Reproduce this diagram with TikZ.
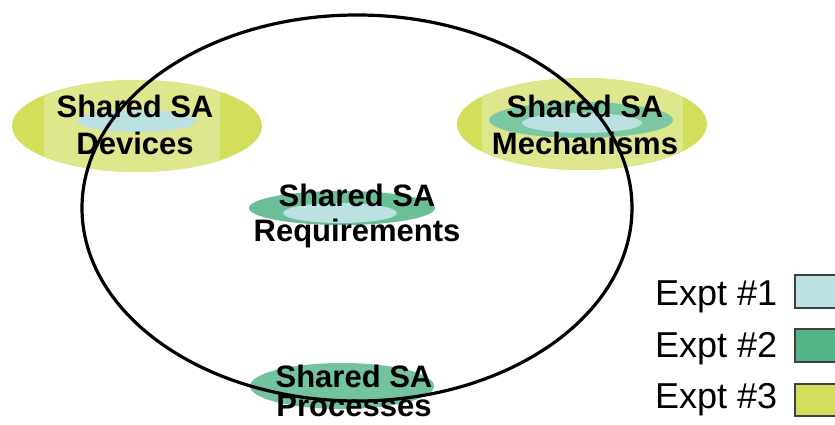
\documentclass[tikz,border=0pt]{standalone}
\usepackage{fontspec}
\setmainfont{Liberation Sans}
\begin{document}
\begin{tikzpicture}[x=1pt,y=-1pt]
\definecolor{expA}{HTML}{BCE1E3}
\definecolor{expB}{HTML}{50B487}
\definecolor{expBsoft}{HTML}{7CC8A2}
\definecolor{expC}{HTML}{D3DF5B}
\definecolor{expCsoft}{HTML}{DEE68E}
\tikzset{
  lbl/.style={font=\fontsize{31}{36}\selectfont\bfseries, anchor=base, inner sep=0pt},
  leg/.style={font=\fontsize{36}{40}\selectfont, anchor=base west, inner sep=0pt},
  legbox/.style={draw=black!75, line width=1.2pt},
  ring/.style={draw=black, line width=3.2pt}
}
\useasboundingbox (0,0) rectangle (835,425);
\fill[white] (0,0) rectangle (835,425);

% Devices: expt 3 band with expt 1 core
\fill[expC] (137,126) ellipse [x radius=125, y radius=46];
\begin{scope}
  \clip (137,126) ellipse [x radius=125, y radius=46];
  \fill[expCsoft] (44,70) rectangle (220,180);
\end{scope}
\fill[expA] (137,121) ellipse [x radius=60, y radius=11];

% Mechanisms: expt 3 band, expt 2 ring, expt 1 core
\fill[expC] (582,124) ellipse [x radius=125, y radius=46];
\begin{scope}
  \clip (582,124) ellipse [x radius=125, y radius=46];
  \fill[expCsoft] (482,70) rectangle (683,180);
\end{scope}
\fill[expBsoft] (581,120) ellipse [x radius=92, y radius=18];
\fill[expA] (582,123) ellipse [x radius=60, y radius=10];

% Requirements
\fill[expB!85!white] (342,208) ellipse [x radius=93, y radius=17];
\fill[expA] (340,213) ellipse [x radius=57, y radius=10];

% Processes
\fill[expB!80!white] (342,386) ellipse [x radius=92, y radius=23];

% Outer boundary
\draw[ring] (357,208) ellipse [x radius=275, y radius=193];

% Labels
\node[lbl] (devA) at (135,118) {Shared SA};
\node[lbl] (devB) at (135,154) {Devices};
\node[lbl] (mecA) at (585,118) {Shared SA};
\node[lbl] (mecB) at (585,154) {Mechanisms};
\node[lbl] (reqA) at (357,206) {Shared SA};
\node[lbl] (reqB) at (357,241) {Requirements};
\node[lbl] (proA) at (354,387) {Shared SA};
\node[lbl] (proB) at (354,416) {Processes};

% Legend
\node[leg] (l1) at (655,305) {Expt \#1};
\node[leg] (l2) at (655,357) {Expt \#2};
\node[leg] (l3) at (655,408) {Expt \#3};
\draw[legbox, fill=expA] (795,275) rectangle (845,308);
\draw[legbox, fill=expB] (795,329) rectangle (845,362);
\draw[legbox, fill=expC] (795,384) rectangle (845,416);
\end{tikzpicture}
\end{document}
